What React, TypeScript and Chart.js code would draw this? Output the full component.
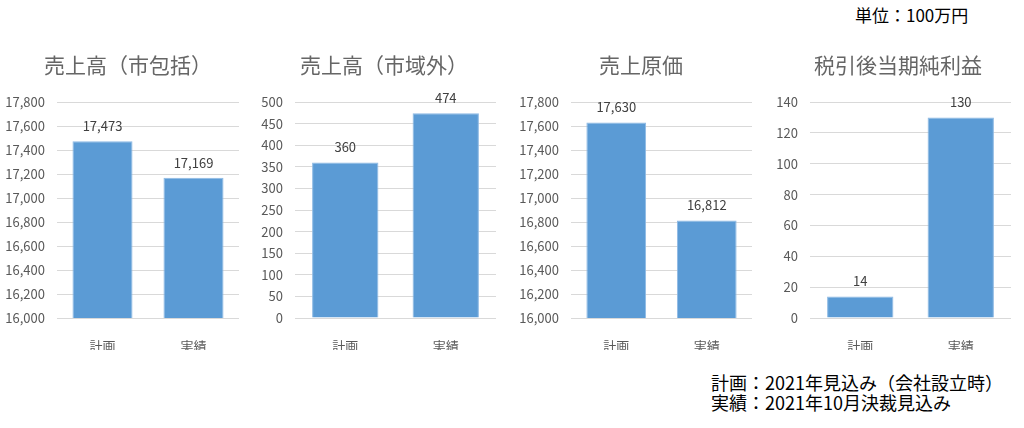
import React, { useEffect, useRef } from "react";
import { Chart, registerables } from "chart.js";

Chart.register(...registerables);

const categories = ["計画", "実績"];

const title1 = "売上高（市包括）";
const values1 = [17473, 17169];
const range1 = [16000, 17800, 200];

const title2 = "売上高（市域外）";
const values2 = [360, 474];
const range2 = [0, 500, 50];

const title3 = "売上原価";
const values3 = [17630, 16812];
const range3 = [16000, 17800, 200];

const title4 = "税引後当期純利益";
const values4 = [14, 130];
const range4 = [0, 140, 20];

const unitText = "単位：100万円";
const noteLines = ["計画：2021年見込み（会社設立時）", "実績：2021年10月決裁見込み"];

const FONT = "'Noto Sans CJK JP', 'Noto Sans', sans-serif";
const BAR = "#5B9BD5";
const GRID = "#D9D9D9";
const TEXT = "#595959";

const fmt = (v: number) => v.toLocaleString("en-US");

const labelPlugin = {
  id: "barValueLabels",
  afterDatasetsDraw(chart: any) {
    const ctx = chart.ctx;
    const meta = chart.getDatasetMeta(0);
    const data = chart.data.datasets[0].data as number[];
    ctx.save();
    ctx.font = `13px ${FONT}`;
    ctx.fillStyle = "#404040";
    ctx.textAlign = "center";
    ctx.textBaseline = "middle";
    meta.data.forEach((bar: any, i: number) => {
      ctx.fillText(fmt(data[i]), bar.x, bar.y - 15);
    });
    ctx.restore();
  },
};

const titlePlugin = {
  id: "panelTitle",
  afterDraw(chart: any, _args: any, opts: any) {
    const ctx = chart.ctx;
    ctx.save();
    ctx.font = `21px ${FONT}`;
    ctx.fillStyle = "#666666";
    ctx.textAlign = "center";
    ctx.textBaseline = "middle";
    ctx.fillText(opts.text, opts.x, opts.y);
    ctx.restore();
  },
};

type Cfg = {
  title: string;
  values: number[];
  range: number[];
  left: number;
  width: number;
  axisW: number;
  padR: number;
  titleX: number;
};

function BarChart({ cfg }: { cfg: Cfg }) {
  const ref = useRef<HTMLCanvasElement>(null);
  useEffect(() => {
    if (!ref.current) return;
    const chart = new Chart(ref.current, {
      type: "bar",
      data: {
        labels: categories,
        datasets: [
          {
            data: cfg.values,
            backgroundColor: BAR,
            borderColor: "#8DB9E4",
            borderWidth: 1,
            barPercentage: 0.66,
            categoryPercentage: 1,
          },
        ],
      },
      options: {
        animation: false,
        responsive: false,
        layout: { padding: { left: 0, right: cfg.padR, top: 62, bottom: 0 } },
        plugins: {
          legend: { display: false },
          tooltip: { enabled: false },
          title: { display: false },
          panelTitle: { text: cfg.title, x: cfg.titleX, y: 25 },
        } as any,
        scales: {
          x: {
            grid: { display: false },
            border: { display: false },
            ticks: { color: TEXT, font: { family: FONT, size: 13 }, padding: 12 },
            afterFit: (s: any) => {
              s.height = 32;
            },
          },
          y: {
            min: cfg.range[0],
            max: cfg.range[1],
            grid: { color: GRID, drawTicks: false },
            border: { display: false },
            ticks: {
              stepSize: cfg.range[2],
              color: TEXT,
              font: { family: FONT, size: 13 },
              padding: 12,
              callback: (v: any) => fmt(Number(v)),
            },
            afterFit: (s: any) => {
              s.width = cfg.axisW;
            },
          },
        },
      },
      plugins: [labelPlugin, titlePlugin],
    });
    return () => chart.destroy();
  }, [cfg]);
  return (
    <canvas
      ref={ref}
      width={cfg.width}
      height={310}
      style={{ position: "absolute", left: cfg.left, top: 40, width: cfg.width, height: 310 }}
    />
  );
}

const cfgs: Cfg[] = [
  { title: title1, values: values1, range: range1, left: 0, width: 242, axisW: 57, padR: 3, titleX: 128 },
  { title: title2, values: values2, range: range2, left: 245, width: 262, axisW: 50, padR: 11, titleX: 139 },
  { title: title3, values: values3, range: range3, left: 510, width: 260, axisW: 61, padR: 18, titleX: 131 },
  { title: title4, values: values4, range: range4, left: 770, width: 254, axisW: 40, padR: 13, titleX: 128 },
];

export default function App() {
  return (
    <div
      style={{
        position: "fixed",
        left: 0,
        top: 0,
        width: 1024,
        height: 428,
        background: "#fff",
        fontFamily: FONT,
        overflow: "hidden",
      }}
    >
      <div style={{ position: "absolute", left: 855, top: 4, fontSize: 17, color: "#000", lineHeight: "22px" }}>
        {unitText}
      </div>
      {cfgs.map((c, i) => (
        <BarChart key={i} cfg={c} />
      ))}
      <div style={{ position: "absolute", left: 711, top: 372, fontSize: 18, color: "#000", lineHeight: "20px" }}>
        {noteLines.map((l, i) => (
          <div key={i}>{l}</div>
        ))}
      </div>
    </div>
  );
}
